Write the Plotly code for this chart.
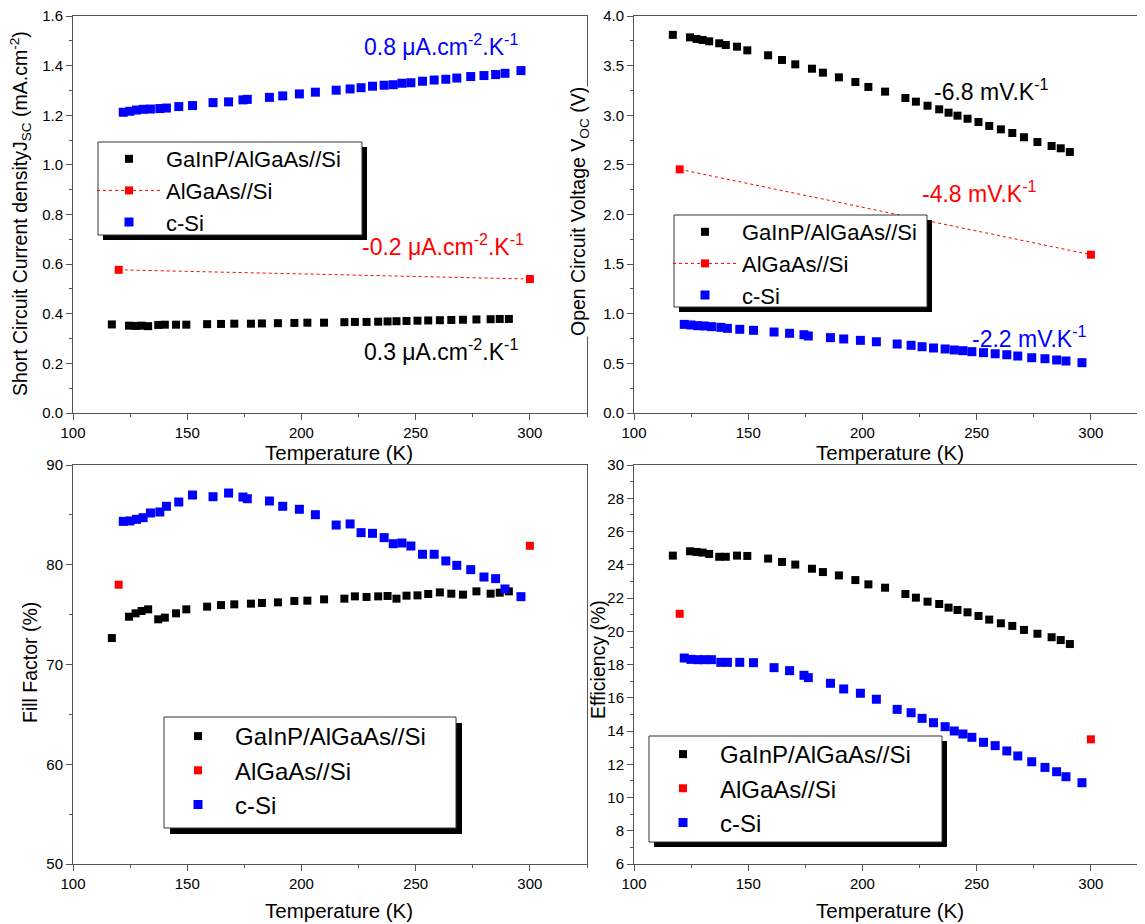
import plotly.graph_objects as go

# page body adds an 8px margin; figure is laid out in window pixels minus that offset
OFF = 8
WIN_W, WIN_H = 1145, 924
W, H = WIN_W - OFF, WIN_H - OFF

# ---------------- data ----------------
T_gainp = [117.0, 124.5, 127.4, 130.0, 132.9, 137.3, 140.2, 145.1, 149.6, 158.7, 164.8, 170.6,
           177.9, 182.7, 189.7, 196.9, 202.6, 209.9, 218.8, 223.4, 228.5, 233.6, 237.7, 241.6,
           246.0, 250.8, 255.5, 260.6, 265.6, 270.7, 276.6, 282.8, 286.8, 290.8]
jsc_gainp = [0.357, 0.352, 0.351, 0.352, 0.350, 0.355, 0.356, 0.356, 0.356, 0.358, 0.359, 0.360,
             0.360, 0.361, 0.362, 0.363, 0.364, 0.364, 0.366, 0.367, 0.367, 0.368, 0.369, 0.370,
             0.371, 0.372, 0.373, 0.374, 0.375, 0.376, 0.377, 0.378, 0.379, 0.379]
voc_gainp = [3.81, 3.785, 3.768, 3.758, 3.745, 3.725, 3.708, 3.691, 3.654, 3.604, 3.557, 3.513,
             3.469, 3.429, 3.382, 3.335, 3.285, 3.238, 3.174, 3.137, 3.096, 3.060, 3.026, 2.996,
             2.965, 2.932, 2.892, 2.858, 2.821, 2.778, 2.730, 2.690, 2.667, 2.630]
ff_gainp = [72.65, 74.79, 75.13, 75.36, 75.53, 74.53, 74.70, 75.13, 75.53, 75.80, 75.96, 76.03,
            76.10, 76.17, 76.23, 76.37, 76.40, 76.53, 76.60, 76.83, 76.77, 76.83, 76.87, 76.60,
            76.90, 76.93, 77.07, 77.23, 77.10, 77.00, 77.33, 77.10, 77.20, 77.33]
eff_gainp = [24.55, 24.81, 24.77, 24.73, 24.65, 24.48, 24.48, 24.55, 24.53, 24.37, 24.17, 24.01,
             23.76, 23.56, 23.36, 23.08, 22.82, 22.62, 22.24, 22.02, 21.78, 21.64, 21.42, 21.28,
             21.14, 20.92, 20.70, 20.48, 20.32, 20.08, 19.85, 19.64, 19.47, 19.23]

T_csi = [122.0, 124.9, 127.8, 130.7, 133.9, 138.0, 140.9, 146.3, 152.3, 161.3, 168.1, 174.4,
         176.3, 186.0, 191.8, 199.1, 206.1, 215.2, 221.3, 226.1, 231.1, 236.2, 240.2, 244.0,
         247.9, 253.0, 258.1, 263.2, 268.0, 274.1, 279.9, 285.0, 289.1, 296.1]
jsc_csi = [1.212, 1.216, 1.221, 1.224, 1.225, 1.227, 1.229, 1.235, 1.239, 1.251, 1.254, 1.262,
           1.264, 1.272, 1.278, 1.286, 1.293, 1.301, 1.306, 1.311, 1.317, 1.321, 1.323, 1.329,
           1.331, 1.337, 1.342, 1.345, 1.350, 1.356, 1.360, 1.364, 1.369, 1.380]
voc_csi = [0.893, 0.887, 0.880, 0.877, 0.870, 0.863, 0.853, 0.843, 0.833, 0.816, 0.803, 0.789,
           0.776, 0.759, 0.746, 0.732, 0.718, 0.695, 0.682, 0.668, 0.655, 0.645, 0.635, 0.628,
           0.618, 0.608, 0.597, 0.587, 0.574, 0.557, 0.547, 0.534, 0.524, 0.507]
ff_csi = [84.35, 84.39, 84.55, 84.72, 85.19, 85.29, 85.86, 86.29, 86.99, 86.82, 87.19, 86.79,
          86.62, 86.39, 85.86, 85.56, 85.02, 83.98, 84.09, 83.22, 83.15, 82.72, 82.11, 82.18,
          81.88, 81.05, 81.05, 80.38, 79.94, 79.51, 78.77, 78.61, 77.57, 76.80]
eff_csi = [18.39, 18.31, 18.29, 18.29, 18.29, 18.13, 18.13, 18.13, 18.11, 17.81, 17.63, 17.35,
           17.21, 16.87, 16.53, 16.27, 15.91, 15.30, 15.10, 14.76, 14.50, 14.26, 14.00, 13.82,
           13.62, 13.32, 13.12, 12.80, 12.50, 12.15, 11.81, 11.55, 11.25, 10.89]

T_al = [120.0, 300.0]
jsc_al = [0.577, 0.540]
voc_al = [2.455, 1.595]
ff_al = [78.0, 81.9]
eff_al = [21.05, 13.5]

names = ["GaInP/AlGaAs//Si", "AlGaAs//Si", "c-Si"]
colors = ["#000000", "#ff0000", "#0000ff"]

FONT = "Arial, Liberation Sans, sans-serif"


def fx(p):
    return (p - OFF) / W


def fy(p):
    return 1 - (p - OFF) / H


fig = go.Figure()

panels = [
    ("x", "y", "legend", jsc_gainp, jsc_al, jsc_csi, True),
    ("x2", "y2", "legend2", voc_gainp, voc_al, voc_csi, True),
    ("x3", "y3", "legend3", ff_gainp, ff_al, ff_csi, False),
    ("x4", "y4", "legend4", eff_gainp, eff_al, eff_csi, False),
]
for xa, ya, lg, g, a, c, redline in panels:
    fig.add_trace(go.Scatter(x=T_gainp, y=g, mode="markers", name=names[0], legend=lg,
                             marker=dict(symbol="square", size=8, color=colors[0]),
                             xaxis=xa, yaxis=ya))
    fig.add_trace(go.Scatter(x=T_al, y=a, mode="lines+markers" if redline else "markers",
                             name=names[1], legend=lg,
                             line=dict(color=colors[1], width=1, dash="dot"),
                             marker=dict(symbol="square", size=8, color=colors[1]),
                             xaxis=xa, yaxis=ya))
    fig.add_trace(go.Scatter(x=T_csi, y=c, mode="markers", name=names[2], legend=lg,
                             marker=dict(symbol="square", size=9, color=colors[2]),
                             xaxis=xa, yaxis=ya))

LC = "#555555"
TICKFONT = dict(size=15, color="black", family=FONT)


def xax(domain, rng, anchor):
    return dict(domain=domain, range=rng, anchor=anchor, tick0=100, dtick=50, automargin=False,
                showline=True, linecolor=LC, linewidth=1, mirror=True,
                ticks="outside", ticklen=6, tickcolor=LC, showgrid=False, zeroline=False,
                tickfont=TICKFONT, ticklabeloverflow="allow",
                minor=dict(ticks="outside", ticklen=3, tickcolor=LC, dtick=25, showgrid=False))


def yax(domain, rng, anchor, dtick, mdtick, fmt):
    return dict(domain=domain, range=rng, anchor=anchor, tick0=rng[0], dtick=dtick,
                tickformat=fmt, automargin=False,
                showline=True, linecolor=LC, linewidth=1, mirror=True,
                ticks="outside", ticklen=6, tickcolor=LC, showgrid=False, zeroline=False,
                tickfont=TICKFONT, ticklabeloverflow="allow",
                minor=dict(ticks="outside", ticklen=3, tickcolor=LC, dtick=mdtick, showgrid=False))


dxL = [fx(73), fx(587)]
dxR = [fx(634), 1.0]
xR_end = 100 + (WIN_W - 634) / ((587 - 73) / 225.0)
dyT = [fy(413), fy(16)]
dyB = [fy(864), fy(465)]

leg_common = dict(bgcolor="rgba(0,0,0,0)", borderwidth=0, xanchor="left", yanchor="top",
                  itemwidth=64, tracegroupgap=0)

fig.update_layout(
    template="none",
    width=W, height=H, margin=dict(l=0, r=0, t=0, b=0, pad=0),
    paper_bgcolor="white", plot_bgcolor="white",
    font=dict(family=FONT, color="black"),
    xaxis=xax(dxL, [100, 325], "y"),
    yaxis=yax(dyT, [0, 1.6], "x", 0.2, 0.1, ".1f"),
    xaxis2=xax(dxR, [100, xR_end], "y2"),
    yaxis2=yax(dyT, [0, 4.0], "x2", 0.5, 0.25, ".1f"),
    xaxis3=xax(dxL, [100, 325], "y3"),
    yaxis3=yax(dyB, [50, 90], "x3", 10, 5, "d"),
    xaxis4=xax(dxR, [100, xR_end], "y4"),
    yaxis4=yax(dyB, [6, 30], "x4", 2, 1, "d"),
    legend=dict(x=fx(92), y=fy(138), font=dict(size=22, family=FONT), **leg_common),
    legend2=dict(x=fx(668), y=fy(211), font=dict(size=22, family=FONT), **leg_common),
    legend3=dict(x=fx(161), y=fy(714), font=dict(size=24, family=FONT), **leg_common),
    legend4=dict(x=fx(646), y=fy(732), font=dict(size=24, family=FONT), **leg_common),
    showlegend=True,
)

# legend boxes with drop shadow
boxes = [(98, 142, 362, 235, 5), (674, 215, 927, 307, 5), (164, 717, 456, 828, 6), (649, 736, 942, 842, 5)]
for x0, y0, x1, y1, off in boxes:
    fig.add_shape(type="rect", xref="paper", yref="paper", layer="above",
                  x0=fx(x0 + off), x1=fx(x1 + off), y0=fy(y1 + off), y1=fy(y0 + off),
                  fillcolor="black", line=dict(width=0))
    fig.add_shape(type="rect", xref="paper", yref="paper", layer="above",
                  x0=fx(x0), x1=fx(x1), y0=fy(y1), y1=fy(y0),
                  fillcolor="white", line=dict(color="#333333", width=1))

# axis titles
TFY = dict(size=19.5, color="black", family=FONT)
TFX = dict(size=20.5, color="black", family=FONT)
titles = [
    (20, 214, -90, "Short Circuit Current densityJ<sub>SC</sub> (mA.cm<sup>-2</sup>)", None, TFY),
    (580, 212, -90, "Open Circuit Voltage V<sub>OC</sub> (V)", "white", TFY),
    (30, 663, -90, "Fill Factor (%)", None, TFY),
    (598, 660, -90, "Efficiency (%)", None, TFY),
    (339, 452, 0, "Temperature (K)", None, TFX),
    (890, 452, 0, "Temperature (K)", None, TFX),
    (339, 910, 0, "Temperature (K)", None, TFX),
    (890, 910, 0, "Temperature (K)", None, TFX),
]
for x, y, ang, t, bg, f in titles:
    fig.add_annotation(xref="paper", yref="paper", x=fx(x), y=fy(y), text=t, textangle=ang,
                       showarrow=False, xanchor="center", yanchor="middle", font=f,
                       bgcolor=bg if bg else "rgba(0,0,0,0)", borderpad=0)

ann = [
    ("x", "y", 261.0, 1.483, "0.8 μA.cm<sup>-2</sup>.K<sup>-1</sup>", colors[2]),
    ("x", "y", 262.0, 0.677, "-0.2 μA.cm<sup>-2</sup>.K<sup>-1</sup>", colors[1]),
    ("x", "y", 261.0, 0.254, "0.3 μA.cm<sup>-2</sup>.K<sup>-1</sup>", colors[0]),
    ("x2", "y2", 256.3, 3.254, "-6.8 mV.K<sup>-1</sup>", colors[0]),
    ("x2", "y2", 251.1, 2.227, "-4.8 mV.K<sup>-1</sup>", colors[1]),
    ("x2", "y2", 273.2, 0.769, "-2.2 mV.K<sup>-1</sup>", colors[2]),
]
for xr, yr, x, y, t, col in ann:
    fig.add_annotation(xref=xr, yref=yr, x=x, y=y, text=t, showarrow=False,
                       xanchor="center", yanchor="middle",
                       font=dict(size=23, color=col, family=FONT))

fig.write_html("out.html")
